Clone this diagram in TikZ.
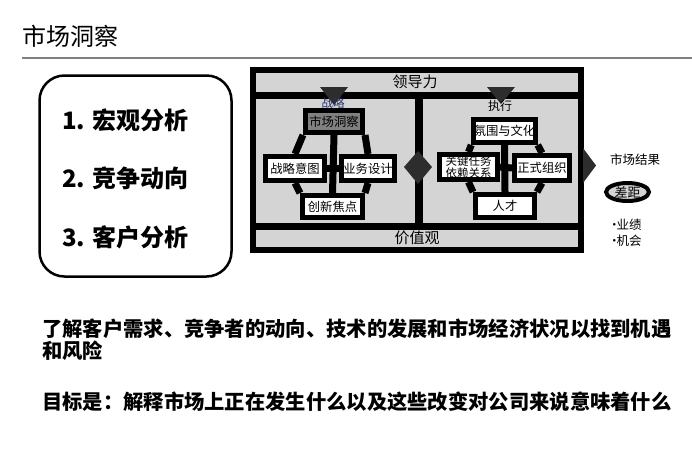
\documentclass[tikz,border=0pt]{standalone}
\usepackage{fontspec}
\setmainfont{Noto Sans CJK SC}
\usetikzlibrary{calc}
\usetikzlibrary{shapes.geometric}
\usepackage{xcolor}
\definecolor{framegray}{RGB}{212,212,212}
\definecolor{darktri}{RGB}{45,45,45}
\definecolor{boxgray}{RGB}{128,128,128}
\definecolor{stratblue}{RGB}{40,50,100}
\pgfdeclarelayer{back}
\pgfdeclarelayer{links}
\pgfsetlayers{back,links,main}

\begin{document}
\begin{tikzpicture}[x=1pt, y=-1pt,
 box/.style={draw, line width=5pt, fill=white, inner sep=0pt, align=center, minimum height=24pt, font=\fontsize{12.3}{12}\selectfont},
 link/.style={line width=7pt},
 bar/.style={line width=7pt},
 tri/.style={fill=darktri},
 item/.style={anchor=west, inner sep=0pt, font=\fontsize{24}{26}\selectfont\bfseries},
 note/.style={anchor=west, inner sep=0pt, align=left, font=\fontsize{20.3}{22}\selectfont\bfseries}]
\useasboundingbox (0,0) rectangle (692,448);
% title
\node[anchor=west, inner sep=0pt, font=\fontsize{24}{26}\selectfont] (title) at (22,36) {市场洞察};
\draw[gray, line width=1.5pt] (22,58) -- (692,58);
% left list
\node[draw, line width=2.5pt, rounded corners=25pt, minimum width=192pt, minimum height=201pt] (list) at (135.5,176) {};
\node[item] (macro) at (62,120) {1. 宏观分析};
\node[item] (compete) at (62,178) {2. 竞争动向};
\node[item] (customer) at (62,237) {3. 客户分析};
% frame
\begin{pgfonlayer}{back}
\fill[framegray] (253,70) rectangle (581,250);
\draw[bar] (253,95.5) -- (581,95.5);
\draw[bar] (253,226) -- (581,226);
\draw[line width=8pt] (418.5,95.5) -- (418.5,226);
\draw[line width=6pt] (253,70) rectangle (581,250);
\fill[tri] (320,87) -- (348,87) -- (334,105) -- cycle;
\fill[tri] (487,87) -- (515,87) -- (501,104) -- cycle;
\fill[tri] (404,167) -- (418,151) -- (432,167) -- (418,184) -- cycle;
\fill[tri] (583,148) -- (596,165.5) -- (583,183) -- cycle;
\end{pgfonlayer}
\node[font=\fontsize{15}{15}\selectfont] (lead) at (415,82) {领导力};
\node[font=\fontsize{15}{15}\selectfont] (value) at (417,238) {价值观};
% strategy
\node[text=stratblue, font=\fontsize{11.5}{12}\selectfont] (strat) at (333,103) {战略};
\node[box, fill=boxgray, minimum width=57pt, minimum height=22pt] (insight) at (334,121.5) {市场洞察};
\node[box, minimum width=59pt] (intent) at (295,168.5) {战略意图};
\node[box, minimum width=53pt] (design) at (368,168.5) {业务设计};
\node[box, minimum width=60pt, minimum height=22pt] (focus) at (332.5,206.5) {创新焦点};
\begin{pgfonlayer}{links}
\draw[link] (insight.south west) -- (intent.north);
\draw[link] (insight.south east) -- (design.north);
\draw[link] (insight.south) -- (focus.north);
\draw[link] (intent.east) -- (design.west);
\draw[link] (intent.south) -- (focus.north west);
\draw[link] (design.south) -- (focus.north east);
\end{pgfonlayer}
% execution
\node[font=\fontsize{12}{12}\selectfont] (exec) at (500,106) {执行};
\node[box, minimum width=60pt, minimum height=23pt] (culture) at (504.5,131) {氛围与文化};
\node[box, minimum width=58pt, minimum height=25pt, font=\fontsize{11.5}{11.5}\selectfont] (task) at (468.5,167) {关键任务\\依赖关系};
\node[box, minimum width=55pt, minimum height=25pt] (org) at (542,168) {正式组织};
\node[box, minimum width=59pt, minimum height=23pt] (talent) at (505,206) {人才};
\begin{pgfonlayer}{links}
\draw[link] (culture.south west) -- (task.north);
\draw[link] (culture.south east) -- (org.north);
\draw[link] (culture.south) -- (talent.north);
\draw[link] (task.east) -- (org.west);
\draw[link] (task.south) -- (talent.north west);
\draw[link] (org.south) -- (talent.north east);
\end{pgfonlayer}
% results
\node[font=\fontsize{12.5}{13}\selectfont] (result) at (635,160) {市场结果};
\node[draw, ellipse, line width=4pt, fill=framegray, inner sep=0pt, minimum width=43pt, minimum height=18pt, font=\fontsize{13}{13}\selectfont] (gap) at (627.5,192) {差距};
\node[anchor=west, inner sep=0pt, font=\fontsize{12.5}{13}\selectfont] (perf) at (608,225) {•\kern-4pt 业绩};
\node[anchor=west, inner sep=0pt, font=\fontsize{12.5}{13}\selectfont] (chance) at (608,241) {•\kern-4pt 机会};
% notes
\node[note, anchor=north west] (need) at (42,318.5) {了解客户需求、竞争者的动向、技术的发展和市场经济状况以找到机遇\\和风险};
\node[note] (goal) at (42,402) {目标是：解释市场上正在发生什么以及这些改变对公司来说意味着什么};
\end{tikzpicture}
\end{document}
